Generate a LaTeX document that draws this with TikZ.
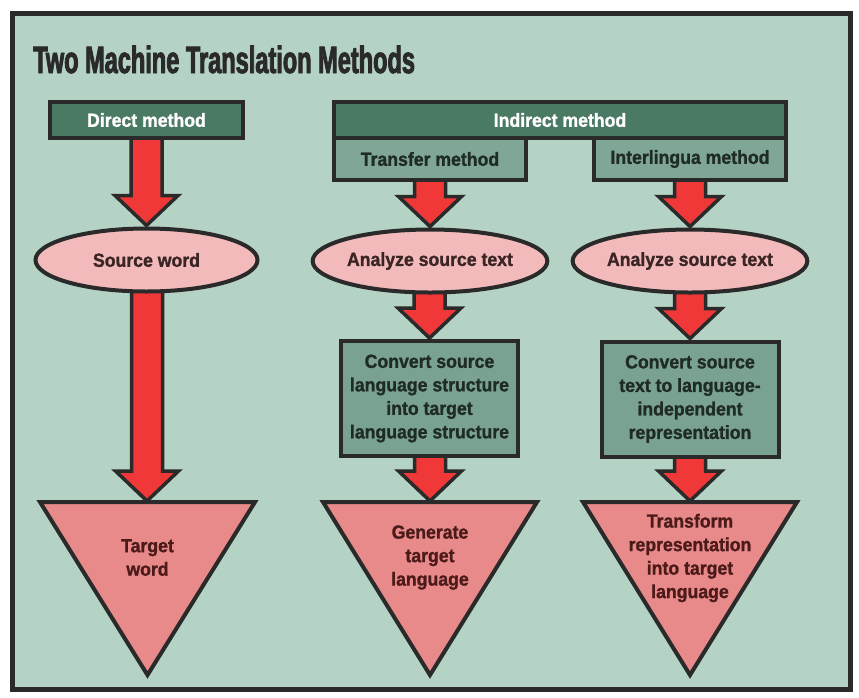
\documentclass[tikz,border=0pt]{standalone}
\usepackage{fontspec}
\setmainfont{Liberation Sans}
\newfontfamily\bodyfont{Liberation Sans Bold}[FakeStretch=0.93, FakeBold=1.2]
\newfontfamily\titlefont{Liberation Sans Bold}[FakeStretch=0.62, FakeBold=2.2]
\usetikzlibrary{shapes.geometric,calc}
\definecolor{bg}{HTML}{B4D3C4}
\definecolor{edge}{HTML}{2A2A2A}
\definecolor{darkgreen}{HTML}{4B7A64}
\definecolor{midgreen}{HTML}{80A796}
\definecolor{convgreen}{HTML}{7AA290}
\definecolor{pinkfill}{HTML}{F2BABA}
\definecolor{trifill}{HTML}{E88A8A}
\definecolor{arrowred}{HTML}{F03838}
\definecolor{darktext}{HTML}{1F2B25}
\definecolor{elltext}{HTML}{3A2424}
\definecolor{tritext}{HTML}{4D1A1A}
\pgfdeclarelayer{back}
\pgfdeclarelayer{mid}
\pgfsetlayers{back,mid,main}
\newcommand{\blockarrow}[2]{%
\begin{pgfonlayer}{mid}
\path[blockarr] let \p1=(#1.south), \p2=(#2) in
 (\x2-15.5pt,\y1+4pt) -- (\x2-15.5pt,\y2+31pt) -- (\x2-31.5pt,\y2+31pt) -- (\x2,\y2+1pt)
 -- (\x2+31.5pt,\y2+31pt) -- (\x2+15.5pt,\y2+31pt) -- (\x2+15.5pt,\y1+4pt) -- cycle;
\end{pgfonlayer}}
\begin{document}
\begin{tikzpicture}[x=1pt,y=-1pt,
  every node/.style={font=\bodyfont\fontsize{19}{23.5}\selectfont, align=center, inner sep=0pt},
  darkbox/.style={draw=edge, line width=4pt, fill=darkgreen, text=white},
  midbox/.style={draw=edge, line width=4pt, fill=midgreen, text=darktext},
  convbox/.style={draw=edge, line width=4pt, fill=convgreen, text=darktext, minimum width=177pt, minimum height=115pt},
  oval/.style={ellipse, draw=edge, line width=4pt, fill=pinkfill, text=elltext, minimum width=222pt, minimum height=63pt},
  tri/.style={draw=edge, line width=4pt, fill=trifill, line join=miter},
  tritxt/.style={text=tritext},
  blockarr/.style={draw=edge, fill=arrowred, line width=3.5pt, line join=miter, miter limit=10}]
\useasboundingbox (0,0) rectangle (859,697);
\begin{pgfonlayer}{back}
\fill[white] (0,0) rectangle (859,697);
\draw[line width=5pt, fill=bg, draw=edge] (12.5,13.5) rectangle (850.5,689.5);
\end{pgfonlayer}

\node[anchor=base west, font=\titlefont\fontsize{38}{40}\selectfont, text=edge] (title) at (33,73) {Two Machine Translation Methods};

% header boxes
\node[darkbox, minimum width=193pt, minimum height=36pt] (direct) at (146.5,120) {Direct method};
\node[darkbox, minimum width=452pt, minimum height=36pt] (indirect) at (560,120) {Indirect method};
\node[midbox, minimum width=192pt, minimum height=42pt] (transfer) at (430,159) {Transfer method};
\node[midbox, minimum width=192pt, minimum height=42pt] (inter) at (690,159) {Interlingua method};

% ellipses
\node[oval] (src) at (146.5,260) {Source word};
\node[oval] (ana1) at (430,261) {Analyze source text};
\node[oval] (ana2) at (690,261) {Analyze source text};

% convert boxes
\node[convbox] (conv1) at (429.5,398.5) {Convert source\\language structure\\into target\\language structure};
\node[convbox] (conv2) at (690,399) {Convert source\\text to language-\\independent\\representation};

% triangles
\draw[tri] (40,502) -- (255,502) -- (147.5,675) -- cycle;
\coordinate (t1top) at (147,502);
\node[tritxt] (t1txt) at (147.5,557.5) {Target\\word};
\draw[tri] (323,502) -- (537,502) -- (430,675) -- cycle;
\coordinate (t2top) at (430,502);
\node[tritxt] (t2txt) at (430,557.5) {Generate\\target\\language};
\draw[tri] (583,502) -- (797,502) -- (690,675) -- cycle;
\coordinate (t3top) at (690,502);
\node[tritxt] (t3txt) at (690,558) {Transform\\representation\\into target\\language};

% arrows
\blockarrow{direct}{src.north}
\blockarrow{src}{t1top}
\blockarrow{transfer}{ana1.north}
\blockarrow{ana1}{conv1.north}
\blockarrow{conv1}{t2top}
\blockarrow{inter}{ana2.north}
\blockarrow{ana2}{conv2.north}
\blockarrow{conv2}{t3top}
\end{tikzpicture}
\end{document}
